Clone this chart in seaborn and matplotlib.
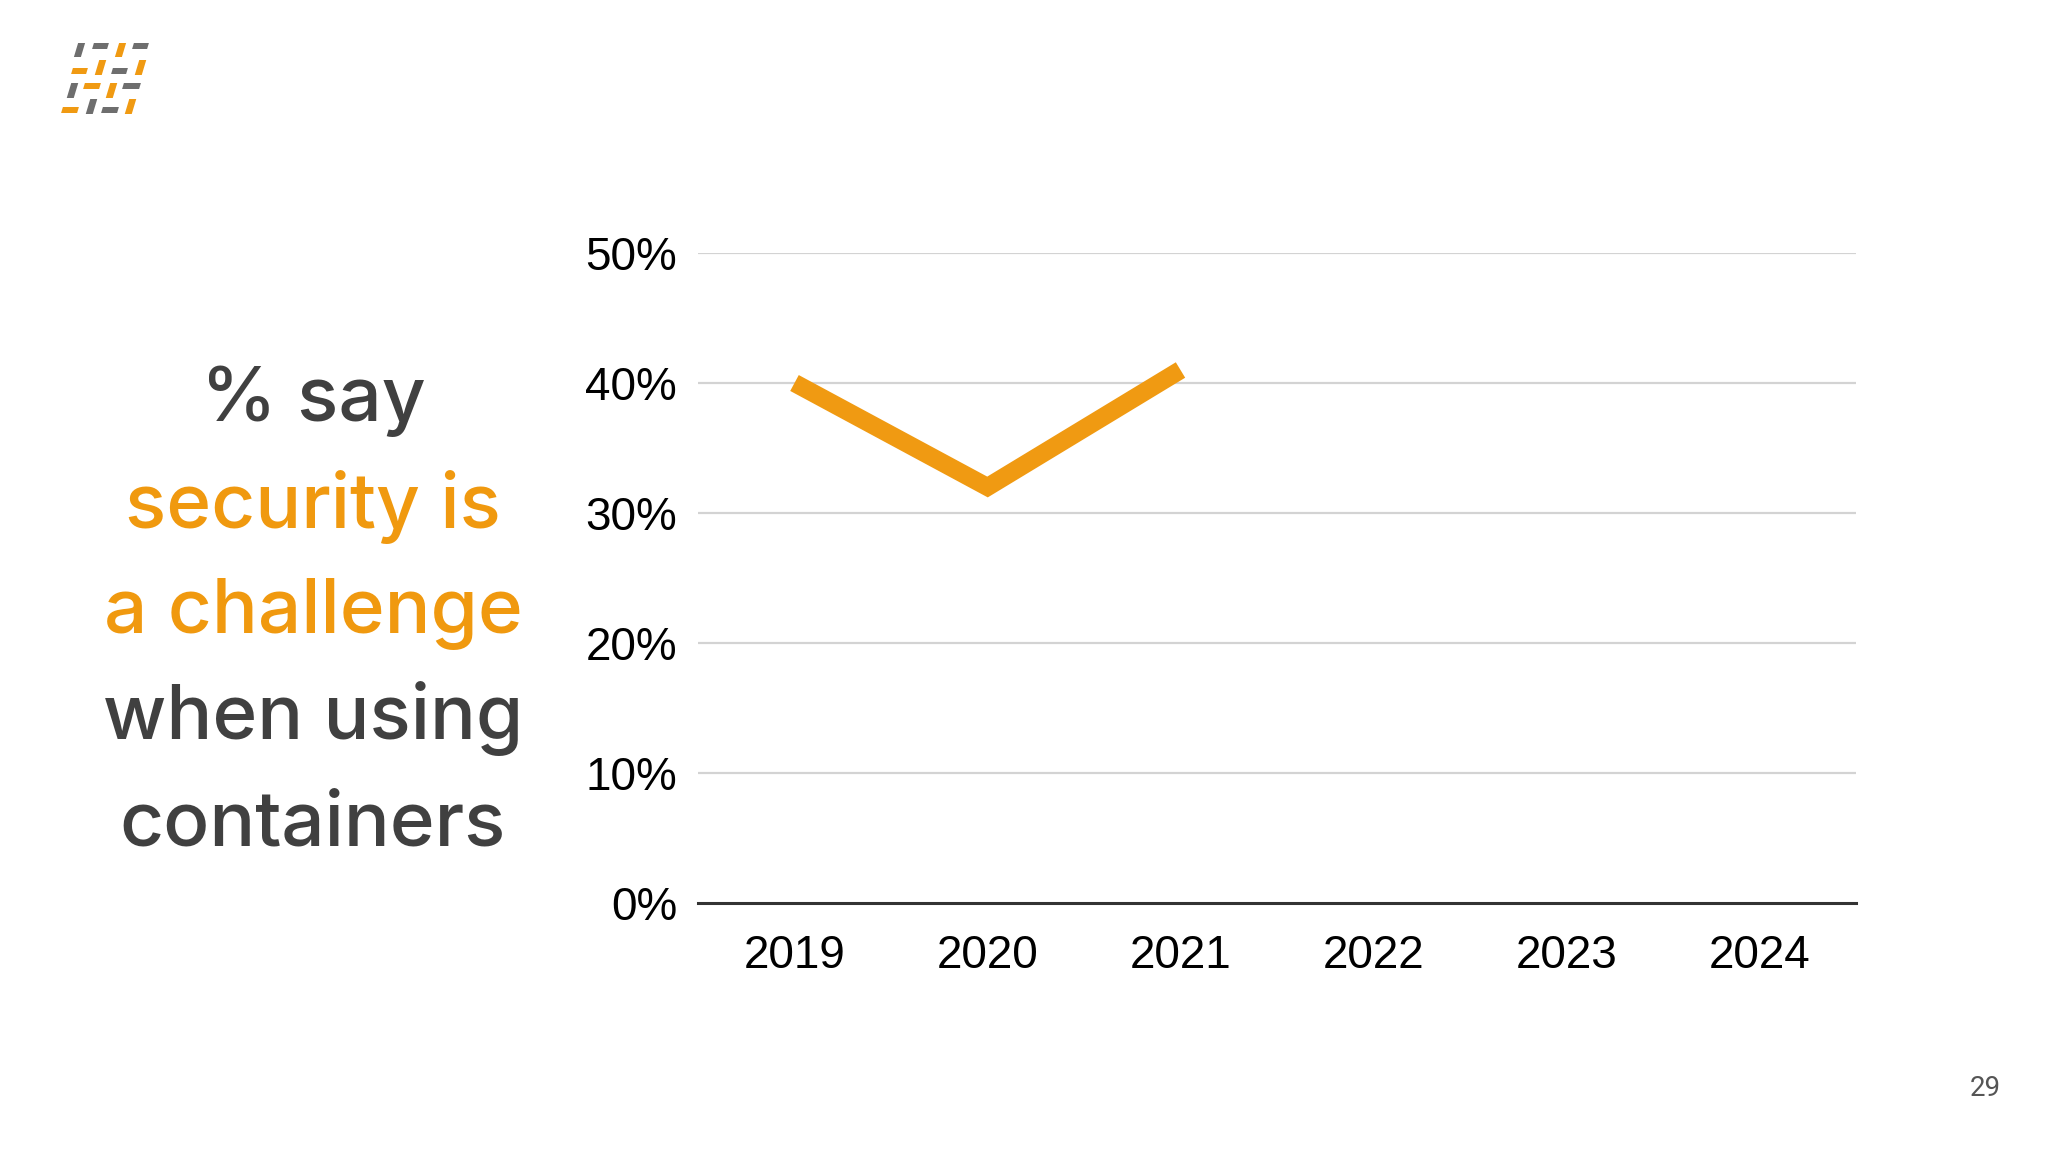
import matplotlib
matplotlib.use("Agg")
import matplotlib.pyplot as plt
import matplotlib.ticker as ticker
from matplotlib.patches import Polygon
import pandas as pd
import seaborn as sns

# data
years = ["2019", "2020", "2021", "2022", "2023", "2024"]
data_years = ["2019", "2020", "2021"]
security_share = [0.40, 0.32, 0.41]
y_ticks = [0.0, 0.1, 0.2, 0.3, 0.4, 0.5]

headline = [
    ("% say", "#404040"),
    ("security is", "#F0990F"),
    ("a challenge", "#F0990F"),
    ("when using", "#404040"),
    ("containers", "#404040"),
]
page_number = "29"

ORANGE = "#F09A12"
GREY = "#6E6E6E"

sns.set_theme(style="white")
plt.rcParams["font.family"] = ["Inter", "DejaVu Sans"]

fig = plt.figure(figsize=(20.48, 11.52), dpi=100)
fig.patch.set_facecolor("white")

ax = fig.add_axes([698 / 2048, 1 - 903 / 1152, (1856 - 698) / 2048, (903 - 253) / 1152])

df = pd.DataFrame({"year": data_years, "share": security_share})
sns.lineplot(data=df, x="year", y="share", ax=ax, color=ORANGE, linewidth=13,
             solid_capstyle="butt", solid_joinstyle="miter", clip_on=False)

ax.set_xlim(-0.5, 5.5)
ax.set_ylim(0, 0.5)
ax.set_xticks(range(len(years)))
ax.set_xticklabels(years)
ax.set_yticks(y_ticks)
ax.yaxis.set_major_formatter(ticker.FuncFormatter(lambda v, p: f"{v * 100:.0f}%"))
ax.set_xlabel("")
ax.set_ylabel("")

for y in y_ticks[1:]:
    ax.axhline(y, color="#D3D3D3", linewidth=1.6, zorder=0)
for side in ["top", "right", "left"]:
    ax.spines[side].set_visible(False)
ax.spines["bottom"].set_color("#333333")
ax.spines["bottom"].set_linewidth(2.2)
ax.spines["bottom"].set_zorder(1)

ax.tick_params(axis="x", length=0, pad=22, labelsize=33, labelcolor="black")
ax.tick_params(axis="y", length=0, pad=15, labelsize=33, labelcolor="black")
for lab in ax.get_xticklabels() + ax.get_yticklabels():
    lab.set_fontfamily(["Liberation Sans", "DejaVu Sans"])

# headline text on the left
baselines = [421, 528, 633, 739, 845]
for (line, color), yb in zip(headline, baselines):
    fig.text(313 / 2048, 1 - yb / 1152, line, color=color, fontsize=55,
             ha="center", va="baseline", fontweight="medium")

fig.text(1985 / 2048, 1 - 1089 / 1152, page_number, color="#555555", fontsize=20,
         ha="center", va="center", family=["Roboto", "DejaVu Sans"])

# logo built from slanted dashes
logo = fig.add_axes([0, 1 - 140 / 1152, 200 / 2048, 140 / 1152])
logo.set_xlim(0, 200)
logo.set_ylim(140, 0)
logo.axis("off")
skew = 0.3
dashes = [
    # (x0, x1, y0, y1, color)
    (93, 108, 43, 49, GREY), (133, 148, 43, 49, GREY),
    (76, 83, 43, 57, GREY), (117, 124, 43, 57, ORANGE),
    (72, 87, 68, 74, ORANGE), (97, 104, 60, 75, ORANGE),
    (112, 127, 68, 74, GREY), (137, 144, 60, 75, ORANGE),
    (69, 76, 83, 98, GREY), (84, 100, 83, 89, ORANGE),
    (108, 115, 83, 98, ORANGE), (123, 140, 83, 89, GREY),
    (62, 78, 107, 113, ORANGE), (88, 95, 99, 114, GREY),
    (102, 118, 107, 113, GREY), (127, 134, 99, 114, ORANGE),
]
for x0, x1, y0, y1, c in dashes:
    ymid = (y0 + y1) / 2
    pts = [(x0 + skew * (ymid - y1), y1), (x1 + skew * (ymid - y1), y1),
           (x1 + skew * (ymid - y0), y0), (x0 + skew * (ymid - y0), y0)]
    logo.add_patch(Polygon(pts, closed=True, color=c, lw=0))

fig.savefig("out.png", dpi=100, facecolor="white")
